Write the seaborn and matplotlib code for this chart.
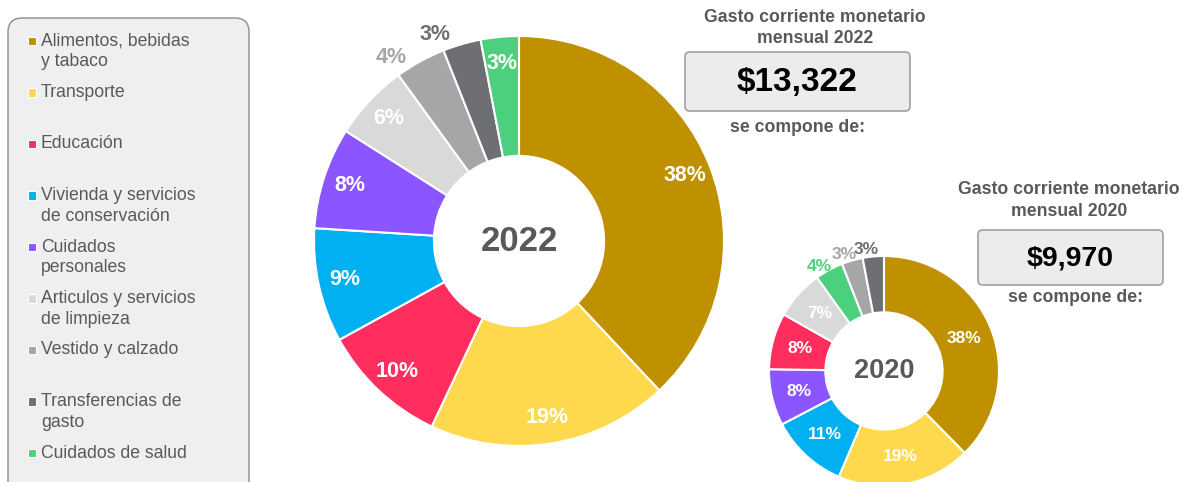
import numpy as np
import matplotlib.pyplot as plt
import seaborn as sns
from matplotlib.patches import FancyBboxPatch

# Data (legend order)
categories = ['Alimentos, bebidas\ny tabaco', 'Transporte', 'Educación',
              'Vivienda y servicios\nde conservación', 'Cuidados\npersonales',
              'Articulos y servicios\nde limpieza', 'Vestido y calzado',
              'Transferencias de\ngasto', 'Cuidados de salud']
colors = ['#BF9000', '#FFD94D', '#FF2E5E', '#00B0F0', '#8B55FF',
          '#D9D9D9', '#A6A6A8', '#6E6F72', '#4CD07D']
pct_2022 = [38, 19, 10, 9, 8, 6, 4, 3, 3]
pct_2020 = [38, 19, 8, 11, 8, 7, 3, 3, 4]
order_2022 = [0, 1, 2, 3, 4, 5, 6, 7, 8]
order_2020 = [0, 1, 3, 4, 2, 5, 8, 6, 7]
outside_2022 = [6, 7]
outside_2020 = [8, 6, 7]
total_2022 = '$13,322'
total_2020 = '$9,970'

sns.set_theme(style='white')
plt.rcParams['font.family'] = ['Liberation Sans', 'DejaVu Sans']

W, H = 1183, 482
fig = plt.figure(figsize=(W / 100, H / 100), dpi=100)
fig.patch.set_facecolor('white')


def fx(x):
    return x / W


def fy(y):
    return 1 - y / H


def donut(cx, cy, r, pct, order, outside, width, lab_r, out_r, nudge, fs, year, yfs):
    ax = fig.add_axes([fx(cx - r), fy(cy + r), 2 * r / W, 2 * r / H])
    vals = [pct[i] for i in order]
    cols = [colors[i] for i in order]
    wedges, _ = ax.pie(vals, colors=cols, startangle=90, counterclock=False,
                       wedgeprops=dict(width=width, edgecolor='white', linewidth=1.5))
    ax.set_xlim(-1, 1)
    ax.set_ylim(-1, 1)
    ax.set_aspect('auto')
    ax.axis('off')
    for w, i in zip(wedges, order):
        ang = (w.theta1 + w.theta2) / 2
        if i in outside:
            a = np.deg2rad(ang + nudge)
            ax.text(out_r * np.cos(a), out_r * np.sin(a), f'{pct[i]}%',
                    ha='center', va='center', fontsize=fs, fontweight='bold',
                    color=colors[i], clip_on=False)
        else:
            a = np.deg2rad(ang)
            ax.text(lab_r * np.cos(a), lab_r * np.sin(a), f'{pct[i]}%',
                    ha='center', va='center', fontsize=fs, fontweight='bold',
                    color='white')
    ax.text(0, 0, year, ha='center', va='center', fontsize=yfs,
            fontweight='bold', color='#595959')


donut(519, 241, 205, pct_2022, order_2022, outside_2022, 0.585, 0.87, 1.09, 6,
      15.5, '2022', 25)
donut(884, 371, 115, pct_2020, order_2020, outside_2020, 0.49, 0.755, 1.07, 3,
      12.5, '2020', 19.5)

# Legend panel
fig.patches.append(FancyBboxPatch((fx(8), fy(500)), fx(241), (500 - 18) / H,
                                  boxstyle='round,pad=0,rounding_size=0.012',
                                  transform=fig.transFigure, facecolor='#EFEFEF',
                                  edgecolor='#8C8C8C', linewidth=1.0,
                                  mutation_aspect=W / H))
lax = fig.add_axes([0, 0, 1, 1], facecolor='none')
lax.set_zorder(10)
lax.set_xlim(0, W)
lax.set_ylim(H, 0)
lax.axis('off')
row_y = 41 + 51.5 * np.arange(len(categories))
lax.scatter(np.full(len(categories), 32), row_y, marker='s', s=40, c=colors,
            edgecolors='white', linewidths=0.8)
for y, lab in zip(row_y, categories):
    for j, line in enumerate(lab.split('\n')):
        lax.text(41, y + 21 * j, line, ha='left', va='center', fontsize=12.7,
                 color='#595959')

# Totals boxes
def total_box(x0, y0, x1, y1, tcx, ty, title, value, sub_x, sub_y, vfs):
    fig.patches.append(FancyBboxPatch((fx(x0), fy(y1)), fx(x1 - x0), (y1 - y0) / H,
                                      boxstyle='round,pad=0,rounding_size=0.004',
                                      transform=fig.transFigure, facecolor='#ECECEC',
                                      edgecolor='#A0A0A0', linewidth=1.2,
                                      mutation_aspect=W / H))
    for j, line in enumerate(title.split('\n')):
        lax.text(tcx, ty + 21.5 * j, line, ha='center', va='center', fontsize=12.7,
                 fontweight='bold', color='#595959')
    lax.text((x0 + x1) / 2, (y0 + y1) / 2 + 1, value, ha='center', va='center',
             fontsize=vfs, fontweight='bold', color='black')
    lax.text(sub_x, sub_y, 'se compone de:', ha='center', va='center', fontsize=12.7,
             fontweight='bold', color='#595959')


total_box(685, 52, 910, 111, 815, 17, 'Gasto corriente monetario\nmensual 2022',
          total_2022, 798, 128, 24)
total_box(978, 230, 1163, 285, 1069, 190, 'Gasto corriente monetario\nmensual 2020',
          total_2020, 1076, 298, 20.5)

plt.savefig('out.png', dpi=100)
